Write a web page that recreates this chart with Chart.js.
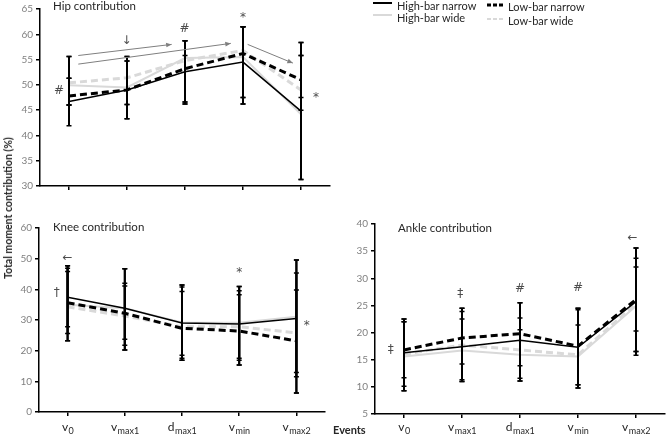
<!DOCTYPE html>
<html lang="en">
<head>
<meta charset="UTF-8">
<title>moment contributions</title>
<script src="https://cdn.jsdelivr.net/npm/chart.js@4.4.1/dist/chart.umd.min.js"></script>
<style>
	body{margin:0;background:#fff;font-family:Lato,"DejaVu Sans",sans-serif;color:#262626;}
	#wrap{position:relative;width:669px;height:436px;overflow:hidden;}
	.panel{position:absolute;}
	.txt{position:absolute;white-space:nowrap;font-size:11px;line-height:14px;}
	.title{position:absolute;white-space:nowrap;font-size:11.5px;line-height:14px;}
	#ytitle{position:absolute;left:8px;top:208px;font-weight:bold;font-size:10.5px;white-space:nowrap;transform:translate(-50%,-50%) rotate(-90deg);}
	#events{position:absolute;left:333px;top:423px;font-weight:bold;font-size:11px;}
</style>
</head>
<body>
<div id="wrap">
	<div class="panel" style="left:0;top:0"><canvas id="hip" width="340" height="200"></canvas></div>
	<div class="panel" style="left:0;top:200px"><canvas id="knee" width="340" height="236"></canvas></div>
	<div class="panel" style="left:335px;top:200px"><canvas id="ankle" width="334" height="236"></canvas></div>

	<div class="title" style="left:53px;top:-1px">Hip contribution</div>
	<div class="title" style="left:53px;top:220px">Knee contribution</div>
	<div class="title" style="left:398px;top:221px">Ankle contribution</div>

	<svg style="position:absolute;left:370px;top:0" width="140" height="26">
		<line x1="3" y1="3" x2="22" y2="3" stroke="#000" stroke-width="2"/>
		<line x1="3" y1="15" x2="22" y2="15" stroke="#d9d9d9" stroke-width="2"/>
		<line x1="117" y1="5" x2="133" y2="5" stroke="#000" stroke-width="3" stroke-dasharray="4,2"/>
		<line x1="117" y1="19" x2="133" y2="19" stroke="#d9d9d9" stroke-width="2" stroke-dasharray="4,2"/>
	</svg>
	<div class="txt" style="left:397px;top:-1px">High-bar narrow</div>
	<div class="txt" style="left:397px;top:11px">High-bar wide</div>
	<div class="txt" style="left:508px;top:0px">Low-bar narrow</div>
	<div class="txt" style="left:508px;top:14px">Low-bar wide</div>

	<div id="ytitle">Total moment contribution (%)</div>
	<div id="events">Events</div>
</div>

<script>
	var events=["v0","vmax1","dmax1","vmin","vmax2"];
	var eventBase=["v","v","d","v","v"];
	var eventSub=["0","max1","max1","min","max2"];

	// hip
	var hipHBN=[46.7,49.0,52.6,54.5,44.8];
	var hipHBW=[49.9,49.5,55.3,55.5,44.2];
	var hipLBN=[47.8,49.0,53.2,56.2,51.0];
	var hipLBW=[50.4,51.4,54.8,56.8,49.0];
	var hipHBNlo=[41.9,43.3,46.6,47.5,31.3], hipHBNhi=[51.3,54.7,58.7,61.5,58.4];
	var hipHBWlo=[46.0,46.1,46.2,46.2,31.3], hipHBWhi=[51.3,54.7,55.8,61.5,55.8];
	var hipLBNlo=[46.0,43.3,46.2,46.2,45.0], hipLBNhi=[55.6,55.6,58.7,61.5,55.8];
	var hipLBWlo=[46.0,46.1,46.6,47.5,47.5], hipLBWhi=[55.6,55.6,58.7,61.5,58.4];

	// knee
	var kneeHBN=[37.4,33.8,29.0,28.7,30.5];
	var kneeHBW=[35.0,33.8,29.2,29.1,31.1];
	var kneeLBN=[35.6,32.2,27.3,26.4,23.2];
	var kneeLBW=[34.3,31.3,27.8,27.8,25.8];
	var kneeHBNlo=[25.6,21.8,16.9,16.9,11.5], kneeHBNhi=[47.7,46.7,41.4,40.9,49.6];
	var kneeHBWlo=[23.2,20.2,18.5,15.3,12.9], kneeHBWhi=[45.8,42.0,39.3,39.5,49.6];
	var kneeLBNlo=[23.2,20.2,16.9,15.3,6.2], kneeLBNhi=[46.9,41.1,40.8,38.2,39.8];
	var kneeLBWlo=[27.8,23.7,17.5,17.5,6.2], kneeLBWhi=[47.7,46.7,41.4,40.9,45.3];

	// ankle
	var ankleHBN=[16.3,17.4,18.6,17.3,25.7];
	var ankleHBW=[15.6,16.7,15.9,15.6,24.9];
	var ankleLBN=[16.8,19.0,19.8,17.5,26.1];
	var ankleLBW=[16.0,17.7,16.8,15.9,25.3];
	var ankleHBNlo=[10.1,11.0,11.6,10.4,16.5], ankleHBNhi=[22.5,23.9,25.5,24.5,35.6];
	var ankleHBWlo=[9.3,11.0,11.1,9.8,20.3], ankleHBWhi=[22.0,22.5,20.5,21.4,32.1];
	var ankleLBNlo=[9.3,11.3,13.9,9.8,15.8], ankleLBNhi=[22.0,24.5,25.5,24.2,33.7];
	var ankleLBWlo=[11.7,14.2,11.1,10.4,16.5], ankleLBWhi=[22.5,24.5,22.7,24.5,35.6];

	// marks above the points: [text, category position, value]
	var hipNotes=[["#",-0.17,48.8],["\u2193",0.99,58.6],["#",1.99,61.1],["*",3.0,63.3],["*",4.26,47.4]];
	var hipArrows=[[0.16,55.8,1.77,58.0],[0.16,54.1,2.79,58.2],[3.08,58.0,3.86,54.3]];
	var kneeNotes=[["\u2190",0.0,50.2],["\u2020",-0.19,38.8],["*",3.0,45.5],["*",4.18,28.0]];
	var ankleNotes=[["\u2021",-0.23,16.8],["\u2021",0.97,27.1],["#",2.0,28.0],["#",3.0,28.2],["\u2190",3.94,37.4]];

	var errorBars={
		id:"errorBars",
		afterDatasetsDraw:function(chart){
			var ctx=chart.ctx, xs=chart.scales.x, ys=chart.scales.y;
			ctx.save();
			ctx.strokeStyle="#000";
			chart.data.datasets.forEach(function(ds){
				ds.errLow.forEach(function(lo,i){
					var px=xs.getPixelForValue(i),
						yl=ys.getPixelForValue(lo),
						yh=ys.getPixelForValue(ds.errHigh[i]);
					ctx.lineWidth=2;
					ctx.beginPath();
					ctx.moveTo(px,yl);
					ctx.lineTo(px,yh);
					ctx.stroke();
					ctx.lineWidth=1.5;
					ctx.beginPath();
					ctx.moveTo(px-2.5,yl); ctx.lineTo(px+2.5,yl);
					ctx.moveTo(px-2.5,yh); ctx.lineTo(px+2.5,yh);
					ctx.stroke();
				})
			})
			ctx.restore();
		}
	};

	var notes={
		id:"notes",
		afterDraw:function(chart,args,opts){
			var ctx=chart.ctx, xs=chart.scales.x, ys=chart.scales.y;
			ctx.save();
			ctx.fillStyle="#4d4d4d";
			ctx.textAlign="center";
			ctx.textBaseline="middle";
			ctx.font="12px 'DejaVu Sans'";
			(opts.texts||[]).forEach(function(n){
				ctx.fillText(n[0],xs.getPixelForValue(n[1]),ys.getPixelForValue(n[2]));
			});
			ctx.strokeStyle="#7f7f7f";
			ctx.fillStyle="#7f7f7f";
			ctx.lineWidth=1;
			(opts.arrows||[]).forEach(function(a){
				var x1=xs.getPixelForValue(a[0]), y1=ys.getPixelForValue(a[1]),
					x2=xs.getPixelForValue(a[2]), y2=ys.getPixelForValue(a[3]);
				var ang=Math.atan2(y2-y1,x2-x1);
				ctx.beginPath();
				ctx.moveTo(x1,y1);
				ctx.lineTo(x2,y2);
				ctx.stroke();
				ctx.beginPath();
				ctx.moveTo(x2,y2);
				ctx.lineTo(x2-6*Math.cos(ang-0.4),y2-6*Math.sin(ang-0.4));
				ctx.lineTo(x2-6*Math.cos(ang+0.4),y2-6*Math.sin(ang+0.4));
				ctx.closePath();
				ctx.fill();
			});
			if(opts.labels) {
				var base=chart.chartArea.bottom+opts.labelOffset;
				ctx.fillStyle="#262626";
				ctx.textAlign="left";
				ctx.textBaseline="alphabetic";
				eventBase.forEach(function(b,i){
					ctx.font="12px Lato";
					var w1=ctx.measureText(b).width;
					ctx.font="9px Lato";
					var w2=ctx.measureText(eventSub[i]).width;
					var left=xs.getPixelForValue(i)-(w1+w2)/2;
					ctx.font="12px Lato";
					ctx.fillText(b,left,base);
					ctx.font="9px Lato";
					ctx.fillText(eventSub[i],left+w1+0.5,base+3);
				});
			}
			ctx.restore();
		}
	};

	function series(hbn,hbw,lbn,lbw,err) {
		return [
			{label:"High-bar narrow",data:hbn,borderColor:"#000",borderWidth:1.5,errLow:err[0],errHigh:err[1]},
			{label:"Low-bar narrow",data:lbn,borderColor:"#000",borderWidth:3,borderDash:[7,4],errLow:err[4],errHigh:err[5]},
			{label:"High-bar wide",data:hbw,borderColor:"#d9d9d9",borderWidth:2,errLow:err[2],errHigh:err[3]},
			{label:"Low-bar wide",data:lbw,borderColor:"#d9d9d9",borderWidth:3,borderDash:[7,4],errLow:err[6],errHigh:err[7]}
		];
	}

	function Panel(id,datasets,options) {
		return new Chart(document.getElementById(id),{
			type:"line",
			data:{labels:events,datasets:datasets},
			plugins:[errorBars,notes],
			options:{
				responsive:false,
				animation:false,
				layout:{padding:{top:options.top,right:options.right,left:0,bottom:0}},
				elements:{point:{radius:0},line:{tension:0,fill:false}},
				plugins:{
					legend:{display:false},
					tooltip:{enabled:false},
					notes:{texts:options.texts,arrows:options.arrows,labels:options.labels,labelOffset:options.labelOffset}
				},
				scales:{
					x:{
						offset:true,
						grid:{offset:false,drawOnChartArea:false,tickLength:4,tickColor:"#000",lineWidth:1.5},
						border:{color:"#000",width:1.5},
						ticks:{display:false},
						afterFit:function(s){ s.height=options.xHeight; }
					},
					y:{
						min:options.min,
						max:options.max,
						grid:{drawOnChartArea:false,tickLength:4,tickColor:"#000",lineWidth:1.5},
						border:{color:"#000",width:1.5},
						ticks:{stepSize:options.step,color:"#808080",font:{family:"Lato",size:10},padding:3},
						afterFit:function(s){ s.width=options.yWidth; }
					}
				}
			}
		});
	}

	Panel("hip",
		series(hipHBN,hipHBW,hipLBN,hipLBW,[hipHBNlo,hipHBNhi,hipHBWlo,hipHBWhi,hipLBNlo,hipLBNhi,hipLBWlo,hipLBWhi]),
		{min:30,max:65,step:5,yWidth:40,top:7,xHeight:14,right:10,texts:hipNotes,arrows:hipArrows});

	Panel("knee",
		series(kneeHBN,kneeHBW,kneeLBN,kneeLBW,[kneeHBNlo,kneeHBNhi,kneeHBWlo,kneeHBWhi,kneeLBNlo,kneeLBNhi,kneeLBWlo,kneeLBWhi]),
		{min:0,max:60,step:10,yWidth:39,top:28,xHeight:24,right:15,texts:kneeNotes,labels:true,labelOffset:19});

	Panel("ankle",
		series(ankleHBN,ankleHBW,ankleLBN,ankleLBW,[ankleHBNlo,ankleHBNhi,ankleHBWlo,ankleHBWhi,ankleLBNlo,ankleLBNhi,ankleLBWlo,ankleLBWhi]),
		{min:5,max:40,step:5,yWidth:40,top:24,xHeight:22,right:4,texts:ankleNotes,labels:true,labelOffset:17});
</script>
</body>
</html>
